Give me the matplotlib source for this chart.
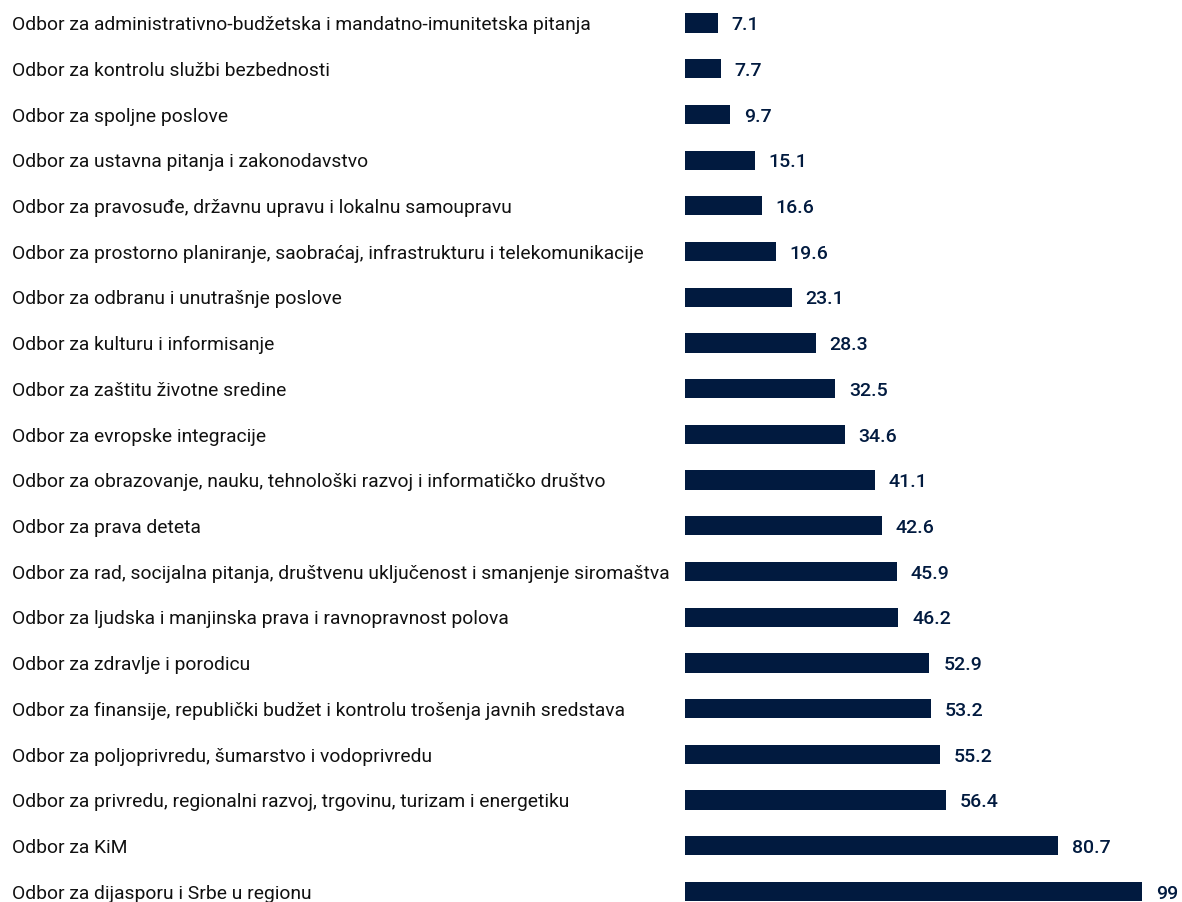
import matplotlib.pyplot as plt
from matplotlib import transforms

# committee names and values, top to bottom
committees = [
    "Odbor za administrativno-budžetska i mandatno-imunitetska pitanja",
    "Odbor za kontrolu službi bezbednosti",
    "Odbor za spoljne poslove",
    "Odbor za ustavna pitanja i zakonodavstvo",
    "Odbor za pravosuđe, državnu upravu i lokalnu samoupravu",
    "Odbor za prostorno planiranje, saobraćaj, infrastrukturu i telekomunikacije",
    "Odbor za odbranu i unutrašnje poslove",
    "Odbor za kulturu i informisanje",
    "Odbor za zaštitu životne sredine",
    "Odbor za evropske integracije",
    "Odbor za obrazovanje, nauku, tehnološki razvoj i informatičko društvo",
    "Odbor za prava deteta",
    "Odbor za rad, socijalna pitanja, društvenu uključenost i smanjenje siromaštva",
    "Odbor za ljudska i manjinska prava i ravnopravnost polova",
    "Odbor za zdravlje i porodicu",
    "Odbor za finansije, republički budžet i kontrolu trošenja javnih sredstava",
    "Odbor za poljoprivredu, šumarstvo i vodoprivredu",
    "Odbor za privredu, regionalni razvoj, trgovinu, turizam i energetiku",
    "Odbor za KiM",
    "Odbor za dijasporu i Srbe u regionu",
]
values = [7.1, 7.7, 9.7, 15.1, 16.6, 19.6, 23.1, 28.3, 32.5, 34.6,
          41.1, 42.6, 45.9, 46.2, 52.9, 53.2, 55.2, 56.4, 80.7, 99]
value_labels = ["7.1", "7.7", "9.7", "15.1", "16.6", "19.6", "23.1", "28.3", "32.5", "34.6",
                "41.1", "42.6", "45.9", "46.2", "52.9", "53.2", "55.2", "56.4", "80.7", "99"]

navy = "#011a3f"
W, H = 1182, 902
fig = plt.figure(figsize=(W / 100, H / 100), dpi=100)
ax = fig.add_axes([685 / W, 0, (1182 - 685) / W, 1])

rows = list(range(len(values)))
ax.barh(rows, values, height=0.42, color=navy)
ax.set_xlim(0, (1182 - 685) / 4.62)
ax.set_ylim(19.23, -0.503)
ax.axis("off")

# category labels, left aligned at the figure edge, baseline a bit below bar centre
trans = transforms.blended_transform_factory(fig.transFigure, ax.transData)
trans = trans + transforms.ScaledTranslation(0, -5.2 / 72, fig.dpi_scale_trans)
for r, name in zip(rows, committees):
    ax.text(12 / W, r, name, transform=trans, ha="left", va="baseline",
            fontsize=13.9, family="Roboto", color="#111111")

# value labels after each bar
for r, v, lab in zip(rows, values, value_labels):
    ax.annotate(lab, (v, r), xytext=(10, -5.2), textcoords="offset points",
                ha="left", va="baseline", fontsize=14, family="Roboto",
                fontweight="medium", color=navy)

fig.savefig("out.png", dpi=100)
